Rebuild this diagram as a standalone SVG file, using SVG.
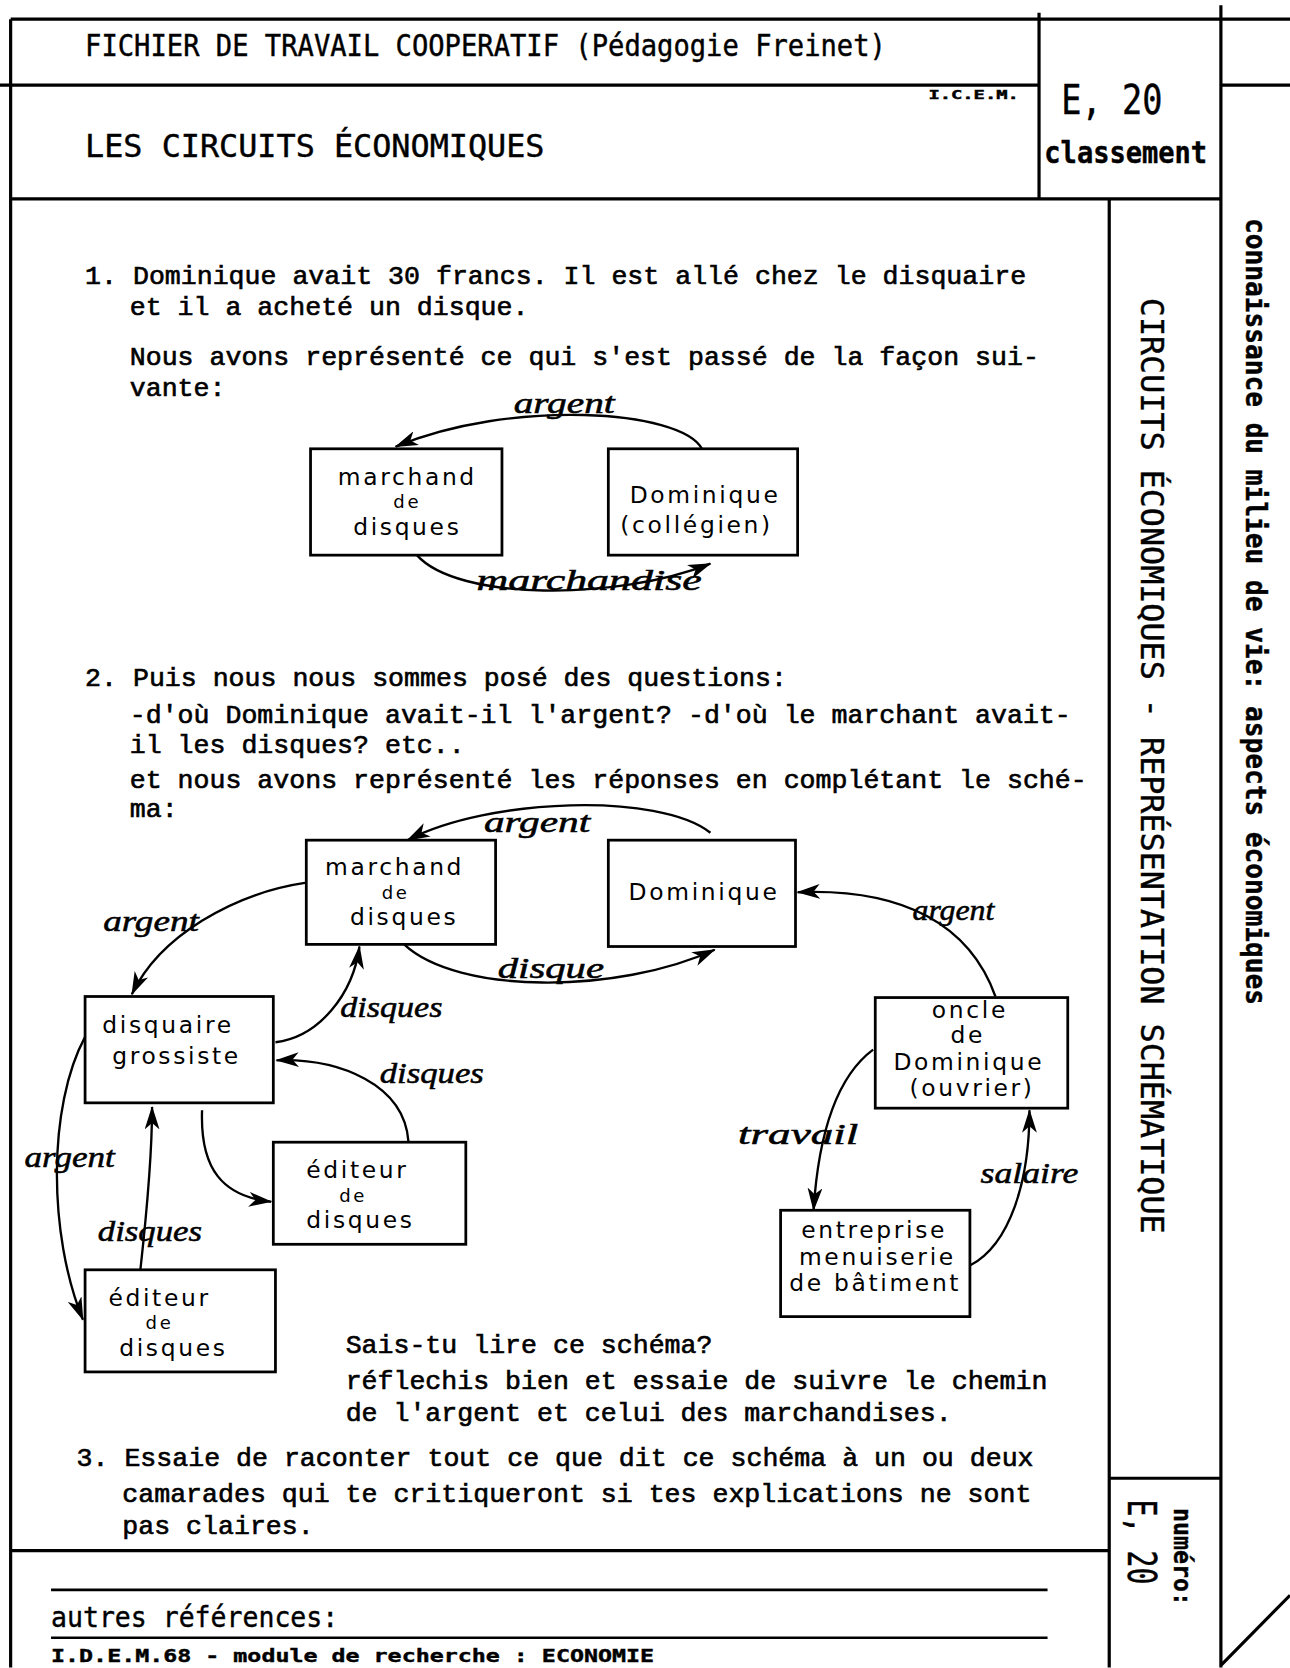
<svg xmlns="http://www.w3.org/2000/svg" width="1290" height="1668" viewBox="0 0 1290 1668">
<defs>
<marker id="ah" viewBox="0 0 22 14" refX="21" refY="7" markerWidth="22" markerHeight="14" markerUnits="userSpaceOnUse" orient="auto">
<path d="M0,0 L22,7 L0,14 L6,7 z" fill="#000"/>
</marker>
<style>
.fr{stroke:#000;stroke-width:3;fill:none}
.bx{fill:none;stroke:#000;stroke-width:2.6}
.cn{stroke:#000;stroke-width:2.2;fill:none;marker-end:url(#ah)}
.mono{font-family:"Liberation Mono","Courier New",monospace;font-size:25px;fill:#000;stroke:#000;stroke-width:0.6}
.hd{font-family:"DejaVu Sans Mono","Liberation Mono",monospace;fill:#000;stroke:#000;stroke-width:0.4}
.bt{font-family:"DejaVu Sans","Noto Sans",sans-serif;font-size:22px;letter-spacing:2.5px;text-anchor:middle;fill:#000}
.sm{font-size:17px}
.lb{font-family:"Liberation Serif","DejaVu Serif",serif;font-style:italic;font-size:28px;fill:#000;stroke:#000;stroke-width:0.5}
</style>
</defs>
<rect width="1290" height="1668" fill="#fff"/>
<g transform="scale(1.0635)">
<g id="frame">
<path class="fr" d="M10 18 H1213 M10 18 V1568 M0 80 H977 M1148 80 H1213 M977 12 V187 M1148 5 V1568 M10 187 H1148 M1043 187 V1568 M1043 1390 H1148 M10 1458 H1043 M1148 1566 L1213 1500"/>
<path d="M48 1495 H985 M48 1540 H985" stroke="#000" stroke-width="2.5" fill="none"/>
<text class="hd" x="80" y="53" font-size="28" textLength="753" lengthAdjust="spacingAndGlyphs">FICHIER DE TRAVAIL COOPERATIF  (Pédagogie Freinet)</text>
<text class="hd" x="80" y="148" font-size="30" textLength="432" lengthAdjust="spacingAndGlyphs">LES CIRCUITS ÉCONOMIQUES</text>
<text class="hd" x="873" y="93" font-size="11" font-weight="bold" textLength="85" lengthAdjust="spacingAndGlyphs">I.C.E.M.</text>
<text class="hd" x="998" y="107" font-size="38" textLength="95" lengthAdjust="spacingAndGlyphs">E, 20</text>
<text class="hd" x="982" y="153" font-size="28" font-weight="bold" textLength="153" lengthAdjust="spacingAndGlyphs">classement</text>
<text class="hd" transform="translate(1172,205) rotate(90)" font-size="26" font-weight="bold" textLength="740" lengthAdjust="spacingAndGlyphs">connaissance du milieu de vie: aspects économiques</text>
<text class="hd" transform="translate(1073,280) rotate(90)" font-size="30" textLength="880" lengthAdjust="spacingAndGlyphs">CIRCUITS ÉCONOMIQUES  -  REPRÉSENTATION SCHÉMATIQUE</text>
<text class="hd" transform="translate(1104,1418) rotate(90)" font-size="24" font-weight="bold" textLength="92" lengthAdjust="spacingAndGlyphs">numéro:</text>
<text class="hd" transform="translate(1061,1410) rotate(90)" font-size="36" textLength="80" lengthAdjust="spacingAndGlyphs">E, 20</text>
<text class="hd" x="48" y="1530" font-size="27" textLength="270" lengthAdjust="spacingAndGlyphs">autres références:</text>
<text class="hd" x="48" y="1563" font-size="17" font-weight="bold" textLength="567" lengthAdjust="spacingAndGlyphs">I.D.E.M.68 - module de recherche : ECONOMIE</text>
</g>
<g id="body-text">
<text class="mono" x="80" y="267">1. Dominique avait 30 francs. Il est allé chez le disquaire</text>
<text class="mono" x="122" y="296">et il a acheté un disque.</text>
<text class="mono" x="122" y="343">Nous avons représenté ce qui s'est passé de la façon sui-</text>
<text class="mono" x="122" y="372">vante:</text>
<text class="mono" x="80" y="645">2. Puis nous nous sommes posé des questions:</text>
<text class="mono" x="122" y="680">-d'où Dominique avait-il l'argent? -d'où le marchant avait-</text>
<text class="mono" x="122" y="708">il les disques? etc..</text>
<text class="mono" x="122" y="741">et nous avons représenté les réponses en complétant le sché-</text>
<text class="mono" x="122" y="768">ma:</text>
<text class="mono" x="325" y="1272">Sais-tu lire ce schéma?</text>
<text class="mono" x="325" y="1306">réflechis bien et essaie de suivre le chemin</text>
<text class="mono" x="325" y="1336">de l'argent et celui des marchandises.</text>
<text class="mono" x="72" y="1378">3. Essaie de raconter tout ce que dit ce schéma à un ou deux</text>
<text class="mono" x="115" y="1412">camarades qui te critiqueront si tes explications ne sont</text>
<text class="mono" x="115" y="1442">pas claires.</text>
</g>
<g id="n1-marchand">
<rect class="bx" x="292" y="422" width="180" height="100"/>
<text class="bt" x="383" y="456">marchand</text>
<text class="bt sm" x="383" y="478">de</text>
<text class="bt" x="383" y="503">disques</text>
</g>
<g id="n1-dominique">
<rect class="bx" x="572" y="422" width="178" height="100"/>
<text class="bt" x="663" y="473">Dominique</text>
<text class="bt" x="655" y="501" font-size="19" letter-spacing="1.5">(collégien)</text>
</g>
<g id="n2-marchand">
<rect class="bx" x="288" y="790" width="178" height="98"/>
<text class="bt" x="371" y="823">marchand</text>
<text class="bt sm" x="372" y="845">de</text>
<text class="bt" x="380" y="870">disques</text>
</g>
<g id="n2-dominique">
<rect class="bx" x="572" y="790" width="176" height="100"/>
<text class="bt" x="662" y="846">Dominique</text>
</g>
<g id="n2-grossiste">
<rect class="bx" x="80" y="937" width="177" height="100"/>
<text class="bt" x="158" y="971">disquaire</text>
<text class="bt" x="166" y="1000">grossiste</text>
</g>
<g id="n2-editeur1">
<rect class="bx" x="257" y="1074" width="181" height="96"/>
<text class="bt" x="336" y="1108">éditeur</text>
<text class="bt sm" x="332" y="1130">de</text>
<text class="bt" x="339" y="1155">disques</text>
</g>
<g id="n2-editeur2">
<rect class="bx" x="80" y="1194" width="179" height="96"/>
<text class="bt" x="150" y="1228">éditeur</text>
<text class="bt sm" x="150" y="1250">de</text>
<text class="bt" x="163" y="1275">disques</text>
</g>
<g id="n2-oncle">
<rect class="bx" x="823" y="938" width="181" height="104"/>
<text class="bt" x="912" y="957" font-size="20">oncle</text>
<text class="bt" x="910" y="981" font-size="15">de</text>
<text class="bt" x="911" y="1006" font-size="20" letter-spacing="2.2">Dominique</text>
<text class="bt" x="914" y="1031" font-size="17" letter-spacing="1.5">(ouvrier)</text>
</g>
<g id="n2-entreprise">
<rect class="bx" x="734" y="1138" width="178" height="100"/>
<text class="bt" x="822" y="1164" font-size="21" letter-spacing="2">entreprise</text>
<text class="bt" x="825" y="1189" font-size="21" letter-spacing="2">menuiserie</text>
<text class="bt" x="823" y="1214" font-size="21" letter-spacing="1.5">de bâtiment</text>
</g>
<g id="connectors">
<path class="cn" d="M660 422 C640 385 480 375 372 420"/>
<path class="cn" d="M392 522 C430 565 580 565 668 530"/>
<path class="cn" d="M668 783 C620 745 460 750 383 790"/>
<path class="cn" d="M380 888 C430 935 580 935 672 893"/>
<path class="cn" d="M936 937 C912 870 850 835 750 839"/>
<path class="cn" d="M288 830 C220 840 150 880 124 935"/>
<path class="cn" d="M259 980 C300 975 332 935 338 890"/>
<path class="cn" d="M384 1073 C380 1020 320 995 260 997"/>
<path class="cn" d="M190 1044 C188 1100 210 1125 255 1130"/>
<path class="cn" d="M80 975 C45 1040 45 1160 78 1241"/>
<path class="cn" d="M132 1194 C138 1140 143 1080 143 1041"/>
<path class="cn" d="M821 987 C790 1010 770 1060 765 1138"/>
<path class="cn" d="M912 1190 C950 1170 968 1110 968 1044"/>
</g>
<g id="labels">
<text class="lb" x="483" y="388" textLength="95" lengthAdjust="spacingAndGlyphs">argent</text>
<text class="lb" x="448" y="555" textLength="212" lengthAdjust="spacingAndGlyphs">marchandise</text>
<text class="lb" x="455" y="782" textLength="100" lengthAdjust="spacingAndGlyphs">argent</text>
<text class="lb" x="468" y="920" textLength="100" lengthAdjust="spacingAndGlyphs">disque</text>
<text class="lb" x="858" y="865" textLength="77" lengthAdjust="spacingAndGlyphs">argent</text>
<text class="lb" x="97" y="875" textLength="90" lengthAdjust="spacingAndGlyphs">argent</text>
<text class="lb" x="320" y="956" textLength="96" lengthAdjust="spacingAndGlyphs">disques</text>
<text class="lb" x="357" y="1018" textLength="98" lengthAdjust="spacingAndGlyphs">disques</text>
<text class="lb" x="23" y="1097" textLength="85" lengthAdjust="spacingAndGlyphs">argent</text>
<text class="lb" x="92" y="1167" textLength="98" lengthAdjust="spacingAndGlyphs">disques</text>
<text class="lb" x="694" y="1076" textLength="113" lengthAdjust="spacingAndGlyphs">travail</text>
<text class="lb" x="922" y="1112" textLength="92" lengthAdjust="spacingAndGlyphs">salaire</text>
</g>
</g>
</svg>
